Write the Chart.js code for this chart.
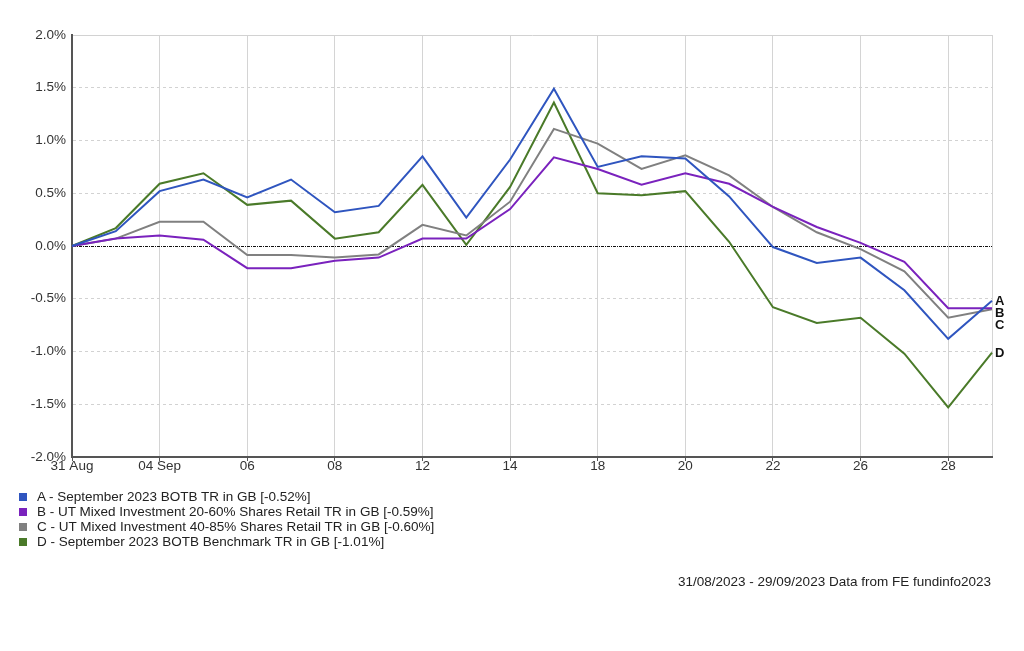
<!DOCTYPE html>
<html lang="en">
<head>
  <meta charset="UTF-8">
  <title>September 2023 BOTB performance</title>
  <script src="https://cdn.jsdelivr.net/npm/chart.js"></script>
  <style>
    body { margin: 0; background: #fff; font-family: 'Liberation Sans', Arial, sans-serif; }
    #wrap { position: relative; width: 1024px; height: 651px; }
    #perfChart { position: absolute; left: 0; top: 0; }
    #legend { position: absolute; left: 19px; top: 489px; font-size: 13.5px; color: #222; }
    .row { height: 15px; line-height: 15px; white-space: nowrap; }
    .sw { display: inline-block; width: 8px; height: 8px; margin-right: 10px; vertical-align: 0px; }
    #footer { position: absolute; right: 33px; top: 574px; font-size: 13.5px; color: #222; }
  </style>
</head>
<body>
  <div id="wrap">
    <canvas id="perfChart" width="1024" height="651"></canvas>
    <div id="legend"></div>
    <div id="footer">31/08/2023 - 29/09/2023 Data from FE fundinfo2023</div>
  </div>
  <script>
    // business days 31 Aug - 29 Sep 2023
    const dates = ['31 Aug', '01 Sep', '04 Sep', '05 Sep', '06 Sep', '07 Sep', '08 Sep', '11 Sep', '12 Sep', '13 Sep', '14 Sep',
      '15 Sep', '18 Sep', '19 Sep', '20 Sep', '21 Sep', '22 Sep', '25 Sep', '26 Sep', '27 Sep', '28 Sep', '29 Sep'];
    const tickLabels = ['31 Aug', '', '04 Sep', '', '06', '', '08', '', '12', '', '14',
      '', '18', '', '20', '', '22', '', '26', '', '28', ''];

    const seriesNames = [
      'A - September 2023 BOTB TR in GB [-0.52%]',
      'B - UT Mixed Investment 20-60% Shares Retail TR in GB [-0.59%]',
      'C - UT Mixed Investment 40-85% Shares Retail TR in GB [-0.60%]',
      'D - September 2023 BOTB Benchmark TR in GB [-1.01%]'
    ];
    const endLetters = ['A', 'B', 'C', 'D'];
    const colors = ['#2f55bf', '#7a22bd', '#808080', '#4a7a29'];

    const seriesA = [0, 0.14, 0.52, 0.63, 0.46, 0.63, 0.32, 0.38, 0.85, 0.27, 0.82, 1.49, 0.75, 0.85, 0.83, 0.47, -0.01, -0.16, -0.11, -0.42, -0.88, -0.52];
    const seriesB = [0, 0.07, 0.10, 0.06, -0.21, -0.21, -0.14, -0.11, 0.07, 0.07, 0.35, 0.84, 0.73, 0.58, 0.69, 0.59, 0.37, 0.18, 0.03, -0.15, -0.59, -0.59];
    const seriesC = [0, 0.07, 0.23, 0.23, -0.085, -0.085, -0.11, -0.08, 0.20, 0.10, 0.42, 1.11, 0.97, 0.73, 0.86, 0.67, 0.37, 0.13, -0.03, -0.24, -0.68, -0.60];
    const seriesD = [0, 0.17, 0.59, 0.69, 0.39, 0.43, 0.07, 0.13, 0.58, 0.01, 0.56, 1.36, 0.50, 0.48, 0.52, 0.04, -0.58, -0.73, -0.68, -1.02, -1.53, -1.01];
    const allSeries = [seriesA, seriesB, seriesC, seriesD];

    const fontFamily = "'Liberation Sans', Arial, sans-serif";

    // A/B/C/D markers at the right end of each line
    const endLabels = {
      id: 'endLabels',
      afterDatasetsDraw(chart) {
        const ctx = chart.ctx;
        const items = chart.data.datasets.map((ds, i) => {
          const meta = chart.getDatasetMeta(i);
          const pt = meta.data[meta.data.length - 1];
          return { letter: endLetters[i], y: pt.y };
        }).sort((a, b) => a.y - b.y);
        for (let i = 1; i < items.length; i++) {
          if (items[i].y - items[i - 1].y < 12) items[i].y = items[i - 1].y + 12;
        }
        ctx.save();
        ctx.font = 'bold 13px ' + fontFamily;
        ctx.fillStyle = '#111';
        ctx.textBaseline = 'middle';
        items.forEach(it => ctx.fillText(it.letter, chart.chartArea.right + 3, it.y + 1));
        ctx.restore();
      }
    };

    const ctx = document.getElementById('perfChart').getContext('2d');
    const perfChart = new Chart(ctx, {
      type: 'line',
      data: {
        labels: dates,
        datasets: allSeries.map((s, i) => ({
          label: seriesNames[i],
          data: s,
          borderColor: colors[i],
          borderWidth: 2,
          pointRadius: 0,
          tension: 0,
          fill: false
        }))
      },
      options: {
        responsive: false,
        animation: false,
        layout: { padding: { top: 35, right: 32, left: 0, bottom: 0 } },
        plugins: {
          legend: { display: false },
          tooltip: { enabled: false }
        },
        scales: {
          x: {
            afterFit: scale => { scale.height = 194; },
            grid: {
              color: c => (c.index % 2 === 0 || c.index === dates.length - 1) ? '#d4d4d4' : 'rgba(0,0,0,0)',
              tickColor: c => (c.index % 2 === 0) ? '#555' : 'rgba(0,0,0,0)',
              tickLength: 4,
              lineWidth: 1
            },
            border: { color: '#555', width: 2 },
            ticks: {
              autoSkip: false,
              maxRotation: 0,
              minRotation: 0,
              padding: -3,
              color: '#333',
              font: { family: fontFamily, size: 13.5 },
              callback: (v, i) => tickLabels[i]
            }
          },
          y: {
            min: -2,
            max: 2,
            afterFit: scale => { scale.width = 72; },
            grid: {
              drawTicks: false,
              color: c => (c.tick && c.tick.value === 0) ? '#111' : '#d2d2d2',
              lineWidth: 1
            },
            border: {
              color: '#555',
              width: 2,
              dash: c => {
                if (!c.tick) return [];
                if (c.tick.value === 2) return [];
                if (c.tick.value === 0) return [3, 1, 1, 1];
                return [3, 3];
              }
            },
            ticks: {
              stepSize: 0.5,
              padding: 6,
              color: '#333',
              font: { family: fontFamily, size: 13.5 },
              callback: v => v.toFixed(1) + '%'
            }
          }
        }
      },
      plugins: [endLabels]
    });

    // legend rows under the chart
    const legendEl = document.getElementById('legend');
    seriesNames.forEach((name, i) => {
      const row = document.createElement('div');
      row.className = 'row';
      row.innerHTML = '<span class="sw" style="background:' + colors[i] + '"></span>' + name;
      legendEl.appendChild(row);
    });
  </script>
</body>
</html>
